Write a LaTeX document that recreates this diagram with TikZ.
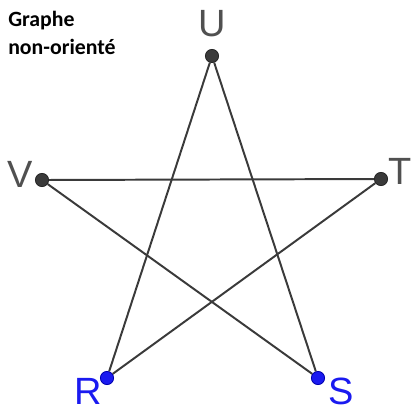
\documentclass[tikz,border=0pt]{standalone}
\usepackage{fontspec}
\setmainfont{Carlito}
\setsansfont{Liberation Sans}
\usetikzlibrary{positioning}
\definecolor{sommet}{HTML}{3A3A3A}
\definecolor{arete}{HTML}{3A3A3A}
\definecolor{lettre}{HTML}{505050}
\definecolor{bleu}{HTML}{1A1AF0}
\definecolor{bleufonce}{HTML}{0000B0}

\begin{document}
\begin{tikzpicture}[x=0.025cm, y=-0.025cm,
    point/.style={circle, fill=sommet, draw=black!85, line width=0.6pt, inner sep=0pt, minimum size=0.33cm},
    pointbleu/.style={point, fill=bleu, draw=bleufonce},
    nom/.style={font=\sffamily\fontsize{27}{27}\selectfont, color=lettre, inner sep=0pt},
    nombleu/.style={nom, color=bleu},
    lien/.style={draw=arete, line width=1.4pt}]
    \useasboundingbox (0,0) rectangle (412,410);

    % Titre
    \node[font=\bfseries\fontsize{15.5}{20}\selectfont, align=left, anchor=north west, inner sep=0pt] (titre) at (8,11) {Graphe\\non-orienté};

    % Sommets
    \node[point] (u) at (212,56) {};
    \node[point] (v) at (42,180) {};
    \node[point] (t) at (381,179) {};
    \node[pointbleu] (r) at (107,378) {};
    \node[pointbleu] (s) at (318,378) {};

    % Aretes
    \draw[lien] (u) -- (r);
    \draw[lien] (u) -- (s);
    \draw[lien] (v) -- (t);
    \draw[lien] (v) -- (s);
    \draw[lien] (t) -- (r);

    % Libelles
    \node[nom] (nu) at (212,24) {U};
    \node[nom] (nv) at (20,174) {V};
    \node[nom] (nt) at (400,171) {T};
    \node[nombleu] (nr) at (88,391) {R};
    \node[nombleu] (ns) at (341,391) {S};
\end{tikzpicture}
\end{document}
